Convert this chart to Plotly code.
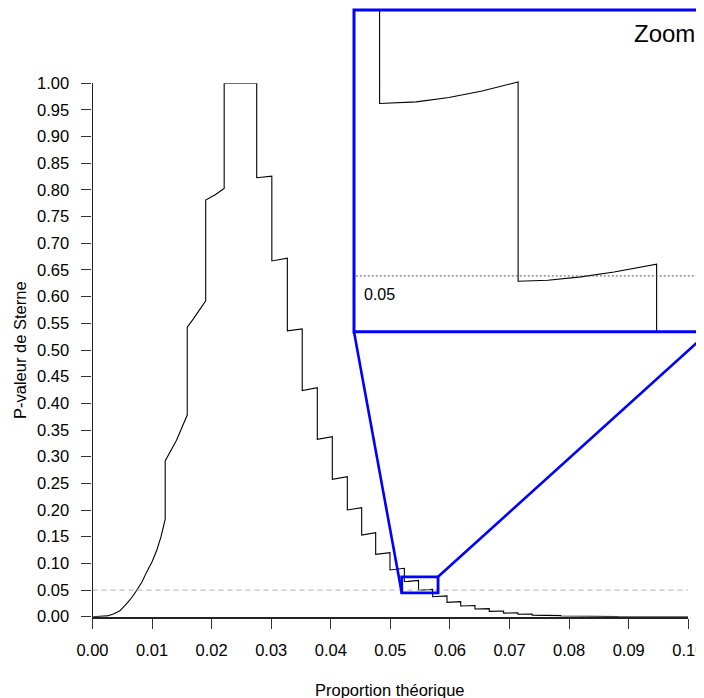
import plotly.graph_objects as go

# ---------------- data ----------------
p_theorique = [
    0.0000, 0.0015, 0.0025, 0.0035, 0.0046, 0.0057, 0.0066, 0.0074, 0.0083, 0.0091,
    0.0100, 0.0108, 0.0115, 0.0121, 0.0122, 0.0122, 0.0141, 0.0159, 0.0159, 0.0169,
    0.0180, 0.0190, 0.0190, 0.0206, 0.0221, 0.0221, 0.02756, 0.02756, 0.0301, 0.0301,
    0.0327, 0.0327, 0.0352, 0.0352, 0.03773, 0.03773, 0.04025, 0.04025, 0.04277, 0.04277,
    0.04518, 0.04518, 0.04753, 0.04753, 0.04993, 0.04993, 0.05234, 0.05234, 0.05297, 0.05353,
    0.05410, 0.05472, 0.05472, 0.05523, 0.05580, 0.05637, 0.05710, 0.05710, 0.0595, 0.0595,
    0.0618, 0.0618, 0.0642, 0.0642, 0.0666, 0.0666, 0.0690, 0.0690, 0.0714, 0.0714,
    0.0738, 0.0738, 0.0762, 0.0762, 0.0786, 0.0786, 0.0810, 0.0810, 0.0834, 0.0834,
    0.0858, 0.0858, 0.0882, 0.0882, 0.0906, 0.0906, 0.1000,
]
p_sterne = [
    0.0000, 0.0001, 0.0015, 0.0050, 0.0110, 0.0240, 0.0360, 0.0490, 0.0650, 0.0840,
    0.1030, 0.1250, 0.1500, 0.1780, 0.1830, 0.2920, 0.3310, 0.3780, 0.5426, 0.5580,
    0.5750, 0.5920, 0.7810, 0.7910, 0.8030, 1.0000, 1.0000, 0.8230, 0.8260, 0.6670,
    0.6720, 0.5360, 0.5395, 0.4238, 0.4294, 0.3326, 0.3375, 0.2576, 0.2625, 0.2001,
    0.2044, 0.1532, 0.1575, 0.1170, 0.1200, 0.0876, 0.0907, 0.06608, 0.06623, 0.06664,
    0.06725, 0.06809, 0.04951, 0.04960, 0.04991, 0.05037, 0.05109, 0.0375, 0.0390, 0.0270,
    0.0282, 0.0200, 0.0209, 0.0144, 0.0151, 0.0100, 0.0106, 0.0068, 0.0072, 0.0046,
    0.0049, 0.0030, 0.0032, 0.0019, 0.0021, 0.0012, 0.0013, 0.0007, 0.0008, 0.0004,
    0.0005, 0.0002, 0.0003, 0.0001, 0.0001, 0.0000, 0.0000,
]

seuil = 0.05
x_range = [0.0, 0.10]
y_range = [0.0, 1.0]
x_ticks = [round(i * 0.01, 2) for i in range(11)]
y_ticks = [round(i * 0.05, 2) for i in range(21)]
zoom_x = [0.0519, 0.0580]
zoom_y = [0.0448, 0.0748]

# ---------------- layout geometry (page pixels) ----------------
PAGE_W, PAGE_H = 704, 698
OFF = 8                      # default body margin of the html page
W, H = PAGE_W - OFF, PAGE_H - OFF
main_px = (92.5, 688.3)      # x pixel span of main axes (page coords)
main_py = (616.7, 83.3)      # y pixel span (bottom, top)
ins_px = (354.0, 709.0)      # inset full pixel span (right edge is off-page)
ins_py = (331.7, 10.0)

def px2p(px):
    return (px - OFF) / W

def py2p(py):
    return 1 - (py - OFF) / H

FONT = "Liberation Sans, Arial, Helvetica, sans-serif"
BLUE = "#0000FF"

fig = go.Figure()

# main curve
fig.add_trace(go.Scatter(x=p_theorique, y=p_sterne, mode="lines",
                         line=dict(color="black", width=1.1),
                         xaxis="x", yaxis="y", hoverinfo="skip", showlegend=False))
# main 0.05 reference line
fig.add_trace(go.Scatter(x=x_range, y=[seuil, seuil], mode="lines",
                         line=dict(color="#BEBEBE", width=1.2, dash="5px,4px"),
                         xaxis="x", yaxis="y", hoverinfo="skip", showlegend=False))
# inset curve
fig.add_trace(go.Scatter(x=p_theorique, y=p_sterne, mode="lines",
                         line=dict(color="black", width=1.1),
                         xaxis="x2", yaxis="y2", hoverinfo="skip", showlegend=False))
# inset 0.05 line
fig.add_trace(go.Scatter(x=[zoom_x[0] - 0.001, zoom_x[1] + 0.001], y=[seuil, seuil], mode="lines",
                         line=dict(color="#555555", width=1, dash="2px,2px"),
                         xaxis="x2", yaxis="y2", hoverinfo="skip", showlegend=False))

# inset visible x-range: the inset runs past the right page edge
ins_frac_visible = (PAGE_W - ins_px[0]) / (ins_px[1] - ins_px[0])
ins_x_range = [zoom_x[0], zoom_x[0] + ins_frac_visible * (zoom_x[1] - zoom_x[0])]

axis_common = dict(showgrid=False, zeroline=False, automargin=False)

fig.update_layout(
    width=W, height=H,
    margin=dict(l=0, r=0, t=0, b=0),
    paper_bgcolor="white", plot_bgcolor="white",
    font=dict(family=FONT, size=16.5, color="black"),
    xaxis=dict(domain=[px2p(main_px[0]), px2p(main_px[1])], range=x_range,
               tickvals=x_ticks, ticktext=[f"{v:.2f}" for v in x_ticks],
               ticks="outside", ticklen=10, tickwidth=1.2, tickcolor="#333333",
               showline=True, linecolor="#222222", linewidth=2,
               ticklabelstandoff=7, ticklabeloverflow="allow", anchor="y", **axis_common),
    yaxis=dict(domain=[py2p(main_py[0]), py2p(main_py[1])], range=y_range,
               tickvals=y_ticks, ticktext=[f"{v:.2f}" for v in y_ticks],
               ticks="outside", ticklen=10, tickwidth=1.2, tickcolor="#333333",
               showline=True, linecolor="#222222", linewidth=1.2,
               ticklabelstandoff=9, ticklabeloverflow="allow", anchor="x", **axis_common),
    xaxis2=dict(domain=[px2p(ins_px[0]), 1.0], range=ins_x_range, anchor="y2",
                showticklabels=False, ticks="", showline=False, **axis_common),
    yaxis2=dict(domain=[py2p(ins_py[0]), py2p(ins_py[1])], range=zoom_y, anchor="x2",
                showticklabels=False, ticks="", showline=False, **axis_common),
)

# zoom rectangle on the main plot
fig.add_shape(type="rect", xref="x", yref="y",
              x0=zoom_x[0], x1=zoom_x[1], y0=zoom_y[0], y1=zoom_y[1],
              line=dict(color=BLUE, width=2.8))

# inset frame
fig.add_shape(type="rect", xref="paper", yref="paper",
              x0=px2p(ins_px[0]), x1=px2p(ins_px[1]), y0=py2p(ins_py[0]), y1=py2p(ins_py[1]),
              line=dict(color=BLUE, width=3))

# connecting lines: zoom box corners -> inset bottom corners
def main_x_to_paper(v):
    d0, d1 = px2p(main_px[0]), px2p(main_px[1])
    return d0 + (v - x_range[0]) / (x_range[1] - x_range[0]) * (d1 - d0)

def main_y_to_paper(v):
    d0, d1 = py2p(main_py[0]), py2p(main_py[1])
    return d0 + (v - y_range[0]) / (y_range[1] - y_range[0]) * (d1 - d0)

fig.add_shape(type="line", xref="paper", yref="paper",
              x0=main_x_to_paper(zoom_x[0]), y0=main_y_to_paper(zoom_y[0]),
              x1=px2p(ins_px[0]), y1=py2p(ins_py[0]),
              line=dict(color=BLUE, width=2.6))
fig.add_shape(type="line", xref="paper", yref="paper",
              x0=main_x_to_paper(zoom_x[1]), y0=main_y_to_paper(zoom_y[1]),
              x1=px2p(ins_px[1]), y1=py2p(ins_py[0]),
              line=dict(color=BLUE, width=2.6))

# texts
fig.add_annotation(text="Zoom", xref="paper", yref="paper",
                   x=px2p(664), y=py2p(33), xanchor="center", yanchor="middle",
                   showarrow=False, font=dict(size=24, family=FONT, color="black"))
fig.add_annotation(text="0.05", xref="paper", yref="paper",
                   x=px2p(362), y=py2p(294), xanchor="left", yanchor="middle",
                   showarrow=False, font=dict(size=16, family=FONT, color="black"))
fig.add_annotation(text="Proportion théorique", xref="paper", yref="paper",
                   x=px2p(390.4), y=py2p(690), xanchor="center", yanchor="middle",
                   showarrow=False, font=dict(size=16.5, family=FONT, color="black"))
fig.add_annotation(text="P-valeur de Sterne", xref="paper", yref="paper",
                   x=px2p(20), y=py2p(350), xanchor="center", yanchor="middle",
                   textangle=-90, showarrow=False,
                   font=dict(size=16.5, family=FONT, color="black"))

fig.write_html("out.html")
